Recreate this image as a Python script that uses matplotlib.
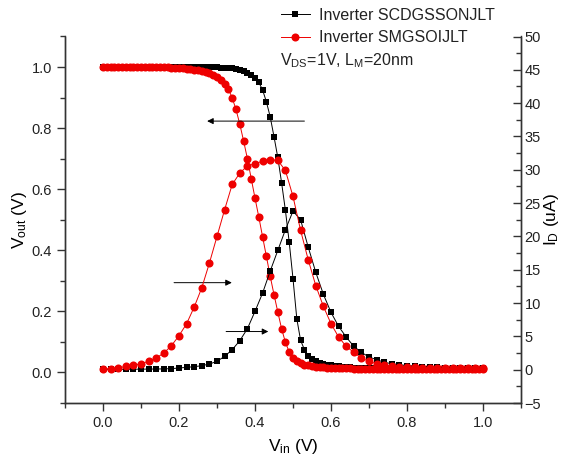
import numpy as np
import matplotlib
matplotlib.use("Agg")
import matplotlib.pyplot as plt
from matplotlib.ticker import MultipleLocator, FormatStrFormatter

plt.rcParams['font.family'] = ['Liberation Sans', 'DejaVu Sans']
plt.rcParams['mathtext.fontset'] = 'custom'
plt.rcParams['mathtext.rm'] = 'Liberation Sans'
plt.rcParams['mathtext.it'] = 'Liberation Sans'
plt.rcParams['mathtext.default'] = 'regular'

# ---- data ----
# Vin sweep for transfer curves (0.01 V step) and drain current (0.02 V step)
vin_vtc = np.round(np.arange(0, 101) * 0.01, 2)
vin_id = np.round(np.arange(0, 51) * 0.02, 2)

vout_scdg = [
    1.000, 1.000, 1.000, 1.000, 1.000, 1.000, 1.000, 1.000, 1.000, 1.000,
    1.000, 1.000, 1.000, 1.000, 1.000, 1.000, 1.000, 1.000, 1.000, 1.000,
    1.000, 1.000, 1.000, 1.000, 1.000, 1.000, 0.999, 0.999, 0.999, 0.999,
    0.999, 0.998, 0.998, 0.997, 0.996, 0.994, 0.991, 0.987, 0.982, 0.975,
    0.965, 0.950, 0.925, 0.886, 0.837, 0.772, 0.704, 0.621, 0.531, 0.427,
    0.307, 0.176, 0.105, 0.075, 0.055, 0.044, 0.037, 0.032, 0.028, 0.025,
    0.023, 0.021, 0.020, 0.019, 0.018, 0.017, 0.016, 0.016, 0.015, 0.015,
    0.014, 0.014, 0.014, 0.013, 0.013, 0.013, 0.012, 0.012, 0.012, 0.012,
    0.012, 0.011, 0.011, 0.011, 0.011, 0.011, 0.010, 0.010, 0.010, 0.010,
    0.010, 0.010, 0.010, 0.010, 0.010, 0.010, 0.010, 0.010, 0.010, 0.010,
    0.010,
]

vout_smg = [
    1.000, 1.000, 1.000, 1.000, 1.000, 1.000, 1.000, 1.000, 1.000, 1.000,
    1.000, 1.000, 1.000, 1.000, 1.000, 1.000, 0.999, 0.999, 0.998, 0.998,
    0.997, 0.996, 0.995, 0.993, 0.991, 0.989, 0.986, 0.983, 0.979, 0.974,
    0.967, 0.958, 0.946, 0.928, 0.899, 0.861, 0.813, 0.758, 0.700, 0.635,
    0.571, 0.509, 0.444, 0.380, 0.315, 0.255, 0.198, 0.143, 0.099, 0.067,
    0.048, 0.037, 0.030, 0.026, 0.023, 0.021, 0.019, 0.018, 0.017, 0.016,
    0.015, 0.014, 0.014, 0.013, 0.013, 0.013, 0.012, 0.012, 0.012, 0.012,
    0.012, 0.011, 0.011, 0.011, 0.011, 0.011, 0.011, 0.011, 0.011, 0.011,
    0.011, 0.010, 0.010, 0.010, 0.010, 0.010, 0.010, 0.010, 0.010, 0.010,
    0.010, 0.010, 0.010, 0.010, 0.010, 0.010, 0.010, 0.010, 0.010, 0.010,
    0.010,
]

id_scdg = [
    0.05, 0.05, 0.05, 0.06, 0.07, 0.08, 0.09, 0.10, 0.12, 0.16,
    0.25, 0.35, 0.45, 0.60, 0.85, 1.25, 2.0, 3.0, 4.35, 6.15,
    8.75, 11.5, 14.8, 17.9, 21.0, 23.8, 22.5, 18.4, 14.6, 11.3,
    8.6, 6.5, 4.9, 3.5, 2.6, 1.9, 1.5, 1.1, 0.9, 0.75,
    0.62, 0.52, 0.45, 0.40, 0.35, 0.32, 0.29, 0.26, 0.24, 0.22,
    0.20,
]

id_smg = [
    0.10, 0.15, 0.25, 0.50, 0.65, 0.90, 1.25, 1.75, 2.5, 3.6,
    5.1, 6.9, 9.4, 12.3, 16.0, 20.0, 24.0, 27.8, 29.5, 30.6,
    30.9, 31.3, 31.5, 31.4, 29.9, 26.0, 20.9, 16.5, 12.6, 9.5,
    6.9, 4.9, 3.5, 2.6, 1.75, 1.25, 0.90, 0.70, 0.55, 0.47,
    0.40, 0.35, 0.31, 0.28, 0.26, 0.24, 0.22, 0.21, 0.20, 0.19,
    0.18,
]

labels = ["Inverter SCDGSSONJLT", "Inverter SMGSOIJLT"]
colors = ["#000000", "#ee0000"]

# ---- figure ----
fig = plt.figure(figsize=(5.65, 4.61), dpi=100)
ax = fig.add_axes([65 / 565, 1 - 403 / 461, (521 - 65) / 565, (403 - 36.5) / 461])
ax2 = ax.twinx()

ms_sq = 4.6
ms_ci = 5.8
h1, = ax.plot(vin_vtc, vout_scdg, color=colors[0], marker='s', ms=ms_sq, lw=0.7,
              markeredgewidth=0)
h2, = ax.plot(vin_vtc, vout_smg, color=colors[1], marker='o', ms=ms_ci, lw=0.7,
              markeredgewidth=0)
ax2.plot(vin_id, id_scdg, color=colors[0], marker='s', ms=ms_sq, lw=0.7,
         markeredgewidth=0)
ax2.plot(vin_id, id_smg, color=colors[1], marker='o', ms=ms_ci, lw=0.7,
         markeredgewidth=0)

ax.set_xlim(-0.1, 1.1)
ax.set_ylim(-0.1, 1.1)
ax2.set_ylim(-5, 50)

spine_c = "#333333"
for a in (ax, ax2):
    for s in a.spines.values():
        s.set_color(spine_c)
        s.set_linewidth(1.0)
    a.spines['top'].set_visible(False)

ax.xaxis.set_minor_locator(MultipleLocator(0.1))
ax.yaxis.set_minor_locator(MultipleLocator(0.1))
ax.xaxis.set_major_formatter(FormatStrFormatter('%.1f'))
ax.yaxis.set_major_formatter(FormatStrFormatter('%.1f'))
ax2.yaxis.set_major_locator(MultipleLocator(5))
ax2.yaxis.set_minor_locator(MultipleLocator(2.5))

ax.set_xticks([0.0, 0.2, 0.4, 0.6, 0.8, 1.0])
ax.set_yticks([0.0, 0.2, 0.4, 0.6, 0.8, 1.0])

ax.tick_params(axis='both', which='major', direction='out', length=6, width=1,
               color=spine_c, labelsize=10.5, labelcolor='#222222')
ax.tick_params(axis='both', which='minor', direction='out', length=3.5, width=1,
               color=spine_c)
ax.tick_params(axis='y', right=False)
ax.tick_params(axis='x', top=False)
ax2.tick_params(axis='y', which='major', direction='in', length=6, width=1,
                color=spine_c, labelsize=10.5, labelcolor='#222222', pad=2.5)
ax2.tick_params(axis='y', which='minor', direction='in', length=3.5, width=1,
                color=spine_c)

ax.set_xlabel("V$_{in}$ (V)", fontsize=12.5, labelpad=5)
ax.set_ylabel("V$_{out}$ (V)", fontsize=12.5, labelpad=2)
ax2.set_ylabel("I$_D$ (uA)", fontsize=12.5, labelpad=1)

# arrows indicating which axis each family of curves belongs to
arrow_kw = dict(arrowstyle='-|>', color='black', lw=0.7, mutation_scale=9,
                shrinkA=0, shrinkB=0)
ax.annotate("", xy=(0.274, 0.823), xytext=(0.53, 0.823), arrowprops=arrow_kw)
ax.annotate("", xy=(0.339, 0.294), xytext=(0.187, 0.294), arrowprops=arrow_kw)
ax.annotate("", xy=(0.435, 0.134), xytext=(0.324, 0.134), arrowprops=arrow_kw)

leg = fig.legend([h1, h2], labels, loc='upper left',
                 bbox_to_anchor=(281 / 565, 1 - 8 / 461), frameon=False,
                 fontsize=11.5, handlelength=1.8, handletextpad=0.6,
                 labelspacing=0.45, borderpad=0, borderaxespad=0, numpoints=1)
for t in leg.get_texts():
    t.set_color('#222222')

fig.text(280 / 565, 1 - 61 / 461, "V$_{DS}$=1V, L$_M$=20nm", fontsize=11.5,
         va='center', ha='left', color='#222222')

fig.savefig("out.png", dpi=100)
